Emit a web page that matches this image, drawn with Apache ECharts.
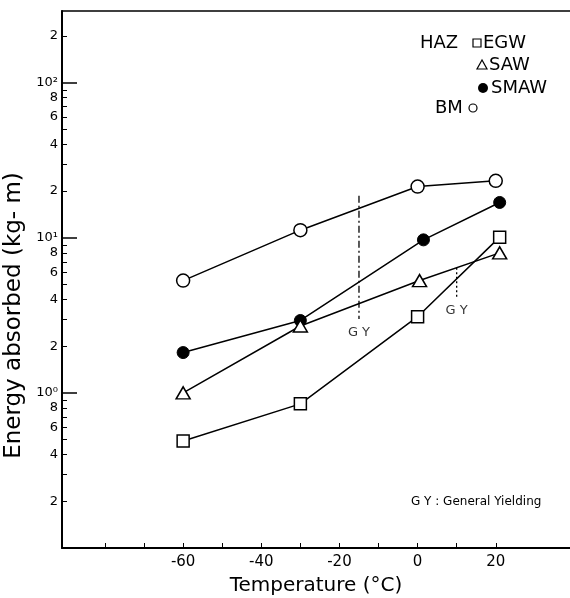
<!DOCTYPE html>
<html><head><meta charset="utf-8">
<script src="https://cdn.jsdelivr.net/npm/echarts@6/dist/echarts.min.js"></script>
<style>html,body{margin:0;padding:0;background:#fff}#c{width:570px;height:598px}</style>
</head><body><div id="c"></div>
<script>
// ---- data ----
const egwTemp = [-60, -30, 0, 21];
const egwEnergy = [0.49, 0.85, 3.1, 10.1];
const sawTemp = [-60, -30, 0.5, 21];
const sawEnergy = [1.0, 2.7, 5.3, 8.0];
const smawTemp = [-60, -30, 1.5, 21];
const smawEnergy = [1.82, 2.93, 9.7, 16.9];
const bmTemp = [-60, -30, 0, 20];
const bmEnergy = [5.3, 11.2, 21.4, 23.3];

// general yielding markers
const gyTemp = [-15, 10];
const gyTop = [18.7, 6.4];
const gyBottom = [3.0, 4.1];
const gyLabelEnergy = [2.45, 3.4];

// axis ticks
const xTickValues = [-80, -70, -60, -50, -40, -30, -20, -10, 0, 10, 20];
const xLabelValues = [-60, -40, -20, 0, 20];
const yMinorTicks = [0.2,0.3,0.4,0.5,0.6,0.7,0.8,0.9,2,3,4,5,6,7,8,9,20,30,40,50,60,70,80,90,200];
const yMajorTicks = [1, 10, 100];
const yLabelValues = [0.2,0.4,0.6,0.8,1,2,4,6,8,10,20,40,60,80,100,200];

const FONT = 'DejaVu Sans';
const sup = ['\u2070','\u00b9','\u00b2'];

function zip(a, b) { return a.map((v, i) => [v, b[i]]); }

const chart = echarts.init(document.getElementById('c'), null, {renderer: 'canvas'});

const lineBase = {
  type: 'line', xAxisIndex: 0, yAxisIndex: 0,
  lineStyle: {color: '#000', width: 1.5},
  z: 3
};

const series = [
  Object.assign({}, lineBase, {name: 'BM', data: zip(bmTemp, bmEnergy), symbol: 'circle', symbolSize: 13,
    itemStyle: {color: '#fff', borderColor: '#000', borderWidth: 1.5}}),
  Object.assign({}, lineBase, {name: 'SMAW', data: zip(smawTemp, smawEnergy), symbol: 'circle', symbolSize: 12,
    itemStyle: {color: '#000', borderColor: '#000', borderWidth: 1}}),
  Object.assign({}, lineBase, {name: 'SAW', data: zip(sawTemp, sawEnergy), symbol: 'triangle', symbolSize: [14, 12],
    itemStyle: {color: '#fff', borderColor: '#000', borderWidth: 1.5}}),
  Object.assign({}, lineBase, {name: 'EGW', data: zip(egwTemp, egwEnergy), symbol: 'rect', symbolSize: 12,
    itemStyle: {color: '#fff', borderColor: '#000', borderWidth: 1.5}}),
  {type: 'line', name: 'GY1', data: [[gyTemp[0], gyTop[0]], [gyTemp[0], gyBottom[0]]], symbol: 'none',
    lineStyle: {color: '#000', width: 1.3, type: [7, 3, 2, 3]}, z: 2},
  {type: 'line', name: 'GY2', data: [[gyTemp[1], gyTop[1]], [gyTemp[1], gyBottom[1]]], symbol: 'none',
    lineStyle: {color: '#000', width: 1.3, type: [2, 2.5]}, z: 2},
  {type: 'scatter', name: 'GYlabel', data: zip(gyTemp, gyLabelEnergy), symbolSize: 0,
    label: {show: true, position: 'inside', formatter: 'G Y', color: '#000', fontFamily: FONT, fontSize: 13}}
];

const option = {
  animation: false,
  backgroundColor: '#fff',
  grid: {left: 62, right: 0, top: 11, bottom: 50, containLabel: false, outerBoundsMode: 'none'},
  xAxis: [{
    type: 'value', min: -91, max: 39, position: 'bottom',
    axisLine: {show: true, onZero: false, lineStyle: {color: '#000', width: 2}},
    axisTick: {show: true, inside: true, length: 5, customValues: xTickValues, lineStyle: {color: '#000', width: 1}},
    axisLabel: {show: true, customValues: xLabelValues, margin: 7, color: '#000', fontFamily: FONT, fontSize: 15},
    splitLine: {show: false},
    name: 'Temperature (\u00b0C)', nameLocation: 'middle', nameGap: 28,
    nameTextStyle: {color: '#000', fontFamily: FONT, fontSize: 20, verticalAlign: 'top'}
  }, {
    type: 'value', min: -91, max: 39, position: 'top',
    axisLine: {show: true, onZero: false, lineStyle: {color: '#000', width: 1.5}},
    axisTick: {show: false}, axisLabel: {show: false}, splitLine: {show: false}
  }],
  yAxis: [{
    type: 'log', logBase: 10, min: 0.1, max: 290, position: 'left',
    axisLine: {show: true, onZero: false, lineStyle: {color: '#000', width: 2}},
    axisTick: {show: true, inside: true, length: 5, customValues: yMinorTicks, lineStyle: {color: '#000', width: 1}},
    axisLabel: {show: true, customValues: yLabelValues, margin: 4, color: '#000', fontFamily: FONT, fontSize: 13,
      formatter: function (v) {
        const e = Math.round(Math.log10(v));
        if (Math.abs(v - Math.pow(10, e)) < 1e-6 * Math.pow(10, e)) return '10' + sup[e];
        const d = Math.round(v / Math.pow(10, Math.floor(Math.log10(v) + 1e-9)));
        return String(d);
      }},
    splitLine: {show: false},
    name: 'Energy absorbed (kg- m)', nameLocation: 'middle', nameRotate: 90, nameGap: 33,
    nameTextStyle: {color: '#000', fontFamily: FONT, fontSize: 23, padding: [0, 72, 0, 0]}
  }, {
    type: 'log', logBase: 10, min: 0.1, max: 290, position: 'left',
    axisLine: {show: false, onZero: false},
    axisTick: {show: true, inside: true, length: 15, customValues: yMajorTicks, lineStyle: {color: '#000', width: 1.5}},
    axisLabel: {show: false}, splitLine: {show: false}
  }],
  graphic: [
    {type: 'text', left: 420, top: 34, style: {text: 'HAZ', fontFamily: FONT, fontSize: 18, fill: '#000'}},
    {type: 'rect', shape: {x: 473, y: 39, width: 8, height: 8}, style: {fill: '#fff', stroke: '#000', lineWidth: 1.2}},
    {type: 'text', left: 483, top: 34, style: {text: 'EGW', fontFamily: FONT, fontSize: 18, fill: '#000'}},
    {type: 'polygon', shape: {points: [[482, 60], [477, 69], [487, 69]]}, style: {fill: '#fff', stroke: '#000', lineWidth: 1.2}},
    {type: 'text', left: 489, top: 56, style: {text: 'SAW', fontFamily: FONT, fontSize: 18, fill: '#000'}},
    {type: 'circle', shape: {cx: 483, cy: 88, r: 5}, style: {fill: '#000'}},
    {type: 'text', left: 491, top: 79, style: {text: 'SMAW', fontFamily: FONT, fontSize: 18, fill: '#000'}},
    {type: 'text', left: 435, top: 99, style: {text: 'BM', fontFamily: FONT, fontSize: 18, fill: '#000'}},
    {type: 'circle', shape: {cx: 473, cy: 108, r: 4}, style: {fill: '#fff', stroke: '#000', lineWidth: 1.2}},
    {type: 'text', left: 411, top: 496, style: {text: 'G Y : General Yielding', fontFamily: FONT, fontSize: 12, fill: '#000'}}
  ],
  series: series
};
chart.setOption(option);
</script>
</body></html>
